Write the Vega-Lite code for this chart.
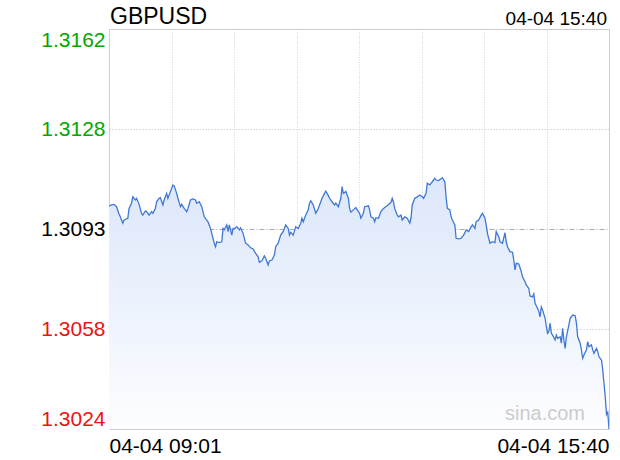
{
  "$schema": "https://vega.github.io/schema/vega-lite/v6.json",
  "width": 500,
  "height": 400,
  "autosize": {"type": "none"},
  "padding": {"left": 109, "top": 29, "right": 11, "bottom": 31},
  "background": "#ffffff",
  "config": {
    "font": "Liberation Sans",
    "view": {"stroke": "#cccccc", "strokeWidth": 1}
  },
  "data": {
    "format": {"parse": {"time": "date:'%Y-%m-%d %H:%M'"}},
    "values": [
      {"time":"2025-04-04 09:01","price":1.31009},
      {"time":"2025-04-04 09:03","price":1.31013},
      {"time":"2025-04-04 09:05","price":1.31015},
      {"time":"2025-04-04 09:07","price":1.31007},
      {"time":"2025-04-04 09:09","price":1.30982},
      {"time":"2025-04-04 09:10","price":1.30972},
      {"time":"2025-04-04 09:12","price":1.30950},
      {"time":"2025-04-04 09:13","price":1.30961},
      {"time":"2025-04-04 09:16","price":1.30967},
      {"time":"2025-04-04 09:17","price":1.31001},
      {"time":"2025-04-04 09:19","price":1.31019},
      {"time":"2025-04-04 09:20","price":1.31041},
      {"time":"2025-04-04 09:22","price":1.31030},
      {"time":"2025-04-04 09:23","price":1.31036},
      {"time":"2025-04-04 09:25","price":1.31015},
      {"time":"2025-04-04 09:27","price":1.30984},
      {"time":"2025-04-04 09:28","price":1.30978},
      {"time":"2025-04-04 09:30","price":1.30992},
      {"time":"2025-04-04 09:31","price":1.30990},
      {"time":"2025-04-04 09:33","price":1.30978},
      {"time":"2025-04-04 09:35","price":1.30990},
      {"time":"2025-04-04 09:36","price":1.30984},
      {"time":"2025-04-04 09:38","price":1.31001},
      {"time":"2025-04-04 09:39","price":1.31024},
      {"time":"2025-04-04 09:41","price":1.31036},
      {"time":"2025-04-04 09:42","price":1.31038},
      {"time":"2025-04-04 09:44","price":1.31013},
      {"time":"2025-04-04 09:45","price":1.31030},
      {"time":"2025-04-04 09:47","price":1.31053},
      {"time":"2025-04-04 09:48","price":1.31036},
      {"time":"2025-04-04 09:50","price":1.31059},
      {"time":"2025-04-04 09:52","price":1.31082},
      {"time":"2025-04-04 09:53","price":1.31079},
      {"time":"2025-04-04 09:55","price":1.31053},
      {"time":"2025-04-04 09:56","price":1.31036},
      {"time":"2025-04-04 09:58","price":1.31007},
      {"time":"2025-04-04 09:59","price":1.31015},
      {"time":"2025-04-04 10:01","price":1.31001},
      {"time":"2025-04-04 10:03","price":1.30990},
      {"time":"2025-04-04 10:04","price":1.31001},
      {"time":"2025-04-04 10:06","price":1.31030},
      {"time":"2025-04-04 10:08","price":1.31034},
      {"time":"2025-04-04 10:10","price":1.31030},
      {"time":"2025-04-04 10:11","price":1.31019},
      {"time":"2025-04-04 10:13","price":1.31024},
      {"time":"2025-04-04 10:15","price":1.31007},
      {"time":"2025-04-04 10:16","price":1.30990},
      {"time":"2025-04-04 10:17","price":1.30972},
      {"time":"2025-04-04 10:20","price":1.30955},
      {"time":"2025-04-04 10:22","price":1.30932},
      {"time":"2025-04-04 10:23","price":1.30915},
      {"time":"2025-04-04 10:25","price":1.30881},
      {"time":"2025-04-04 10:26","price":1.30869},
      {"time":"2025-04-04 10:27","price":1.30886},
      {"time":"2025-04-04 10:29","price":1.30883},
      {"time":"2025-04-04 10:31","price":1.30886},
      {"time":"2025-04-04 10:32","price":1.30932},
      {"time":"2025-04-04 10:33","price":1.30927},
      {"time":"2025-04-04 10:35","price":1.30944},
      {"time":"2025-04-04 10:36","price":1.30921},
      {"time":"2025-04-04 10:37","price":1.30944},
      {"time":"2025-04-04 10:39","price":1.30909},
      {"time":"2025-04-04 10:40","price":1.30932},
      {"time":"2025-04-04 10:41","price":1.30930},
      {"time":"2025-04-04 10:43","price":1.30938},
      {"time":"2025-04-04 10:45","price":1.30927},
      {"time":"2025-04-04 10:46","price":1.30934},
      {"time":"2025-04-04 10:48","price":1.30915},
      {"time":"2025-04-04 10:50","price":1.30881},
      {"time":"2025-04-04 10:52","price":1.30875},
      {"time":"2025-04-04 10:54","price":1.30865},
      {"time":"2025-04-04 10:56","price":1.30861},
      {"time":"2025-04-04 10:58","price":1.30846},
      {"time":"2025-04-04 11:00","price":1.30834},
      {"time":"2025-04-04 11:01","price":1.30815},
      {"time":"2025-04-04 11:03","price":1.30820},
      {"time":"2025-04-04 11:05","price":1.30837},
      {"time":"2025-04-04 11:06","price":1.30829},
      {"time":"2025-04-04 11:08","price":1.30806},
      {"time":"2025-04-04 11:09","price":1.30820},
      {"time":"2025-04-04 11:11","price":1.30823},
      {"time":"2025-04-04 11:13","price":1.30840},
      {"time":"2025-04-04 11:14","price":1.30869},
      {"time":"2025-04-04 11:16","price":1.30881},
      {"time":"2025-04-04 11:18","price":1.30909},
      {"time":"2025-04-04 11:20","price":1.30921},
      {"time":"2025-04-04 11:22","price":1.30944},
      {"time":"2025-04-04 11:24","price":1.30932},
      {"time":"2025-04-04 11:25","price":1.30909},
      {"time":"2025-04-04 11:26","price":1.30919},
      {"time":"2025-04-04 11:28","price":1.30909},
      {"time":"2025-04-04 11:30","price":1.30938},
      {"time":"2025-04-04 11:32","price":1.30932},
      {"time":"2025-04-04 11:34","price":1.30950},
      {"time":"2025-04-04 11:35","price":1.30967},
      {"time":"2025-04-04 11:36","price":1.30955},
      {"time":"2025-04-04 11:38","price":1.30978},
      {"time":"2025-04-04 11:40","price":1.30996},
      {"time":"2025-04-04 11:41","price":1.31019},
      {"time":"2025-04-04 11:42","price":1.31027},
      {"time":"2025-04-04 11:44","price":1.31013},
      {"time":"2025-04-04 11:46","price":1.30984},
      {"time":"2025-04-04 11:48","price":1.31001},
      {"time":"2025-04-04 11:50","price":1.31024},
      {"time":"2025-04-04 11:51","price":1.31036},
      {"time":"2025-04-04 11:53","price":1.31053},
      {"time":"2025-04-04 11:54","price":1.31061},
      {"time":"2025-04-04 11:56","price":1.31045},
      {"time":"2025-04-04 11:57","price":1.31036},
      {"time":"2025-04-04 11:59","price":1.31024},
      {"time":"2025-04-04 12:01","price":1.31013},
      {"time":"2025-04-04 12:02","price":1.31019},
      {"time":"2025-04-04 12:04","price":1.31007},
      {"time":"2025-04-04 12:06","price":1.31036},
      {"time":"2025-04-04 12:07","price":1.31076},
      {"time":"2025-04-04 12:08","price":1.31053},
      {"time":"2025-04-04 12:10","price":1.31059},
      {"time":"2025-04-04 12:12","price":1.31036},
      {"time":"2025-04-04 12:13","price":1.31001},
      {"time":"2025-04-04 12:14","price":1.30988},
      {"time":"2025-04-04 12:16","price":1.30996},
      {"time":"2025-04-04 12:18","price":1.31004},
      {"time":"2025-04-04 12:20","price":1.30990},
      {"time":"2025-04-04 12:21","price":1.30984},
      {"time":"2025-04-04 12:22","price":1.30967},
      {"time":"2025-04-04 12:24","price":1.30984},
      {"time":"2025-04-04 12:25","price":1.31007},
      {"time":"2025-04-04 12:28","price":1.31010},
      {"time":"2025-04-04 12:29","price":1.30996},
      {"time":"2025-04-04 12:30","price":1.30972},
      {"time":"2025-04-04 12:32","price":1.30967},
      {"time":"2025-04-04 12:33","price":1.30955},
      {"time":"2025-04-04 12:34","price":1.30969},
      {"time":"2025-04-04 12:36","price":1.30967},
      {"time":"2025-04-04 12:38","price":1.30990},
      {"time":"2025-04-04 12:39","price":1.30996},
      {"time":"2025-04-04 12:41","price":1.31004},
      {"time":"2025-04-04 12:43","price":1.31010},
      {"time":"2025-04-04 12:46","price":1.31022},
      {"time":"2025-04-04 12:47","price":1.31036},
      {"time":"2025-04-04 12:48","price":1.31024},
      {"time":"2025-04-04 12:49","price":1.31001},
      {"time":"2025-04-04 12:51","price":1.30978},
      {"time":"2025-04-04 12:52","price":1.30972},
      {"time":"2025-04-04 12:54","price":1.30978},
      {"time":"2025-04-04 12:55","price":1.30961},
      {"time":"2025-04-04 12:57","price":1.30972},
      {"time":"2025-04-04 12:59","price":1.30967},
      {"time":"2025-04-04 13:01","price":1.30950},
      {"time":"2025-04-04 13:02","price":1.30967},
      {"time":"2025-04-04 13:03","price":1.31013},
      {"time":"2025-04-04 13:05","price":1.31036},
      {"time":"2025-04-04 13:07","price":1.31041},
      {"time":"2025-04-04 13:09","price":1.31047},
      {"time":"2025-04-04 13:11","price":1.31041},
      {"time":"2025-04-04 13:12","price":1.31036},
      {"time":"2025-04-04 13:14","price":1.31053},
      {"time":"2025-04-04 13:15","price":1.31088},
      {"time":"2025-04-04 13:17","price":1.31082},
      {"time":"2025-04-04 13:19","price":1.31093},
      {"time":"2025-04-04 13:21","price":1.31105},
      {"time":"2025-04-04 13:22","price":1.31099},
      {"time":"2025-04-04 13:24","price":1.31097},
      {"time":"2025-04-04 13:26","price":1.31103},
      {"time":"2025-04-04 13:27","price":1.31107},
      {"time":"2025-04-04 13:29","price":1.31093},
      {"time":"2025-04-04 13:30","price":1.31041},
      {"time":"2025-04-04 13:31","price":1.31001},
      {"time":"2025-04-04 13:33","price":1.30996},
      {"time":"2025-04-04 13:34","price":1.30972},
      {"time":"2025-04-04 13:35","price":1.30961},
      {"time":"2025-04-04 13:37","price":1.30944},
      {"time":"2025-04-04 13:38","price":1.30898},
      {"time":"2025-04-04 13:40","price":1.30896},
      {"time":"2025-04-04 13:42","price":1.30898},
      {"time":"2025-04-04 13:44","price":1.30909},
      {"time":"2025-04-04 13:46","price":1.30927},
      {"time":"2025-04-04 13:48","price":1.30921},
      {"time":"2025-04-04 13:50","price":1.30938},
      {"time":"2025-04-04 13:51","price":1.30944},
      {"time":"2025-04-04 13:53","price":1.30932},
      {"time":"2025-04-04 13:54","price":1.30955},
      {"time":"2025-04-04 13:56","price":1.30961},
      {"time":"2025-04-04 13:58","price":1.30978},
      {"time":"2025-04-04 13:59","price":1.30984},
      {"time":"2025-04-04 14:01","price":1.30967},
      {"time":"2025-04-04 14:02","price":1.30944},
      {"time":"2025-04-04 14:03","price":1.30915},
      {"time":"2025-04-04 14:05","price":1.30881},
      {"time":"2025-04-04 14:07","price":1.30886},
      {"time":"2025-04-04 14:09","price":1.30883},
      {"time":"2025-04-04 14:10","price":1.30921},
      {"time":"2025-04-04 14:12","price":1.30903},
      {"time":"2025-04-04 14:13","price":1.30886},
      {"time":"2025-04-04 14:15","price":1.30881},
      {"time":"2025-04-04 14:17","price":1.30917},
      {"time":"2025-04-04 14:18","price":1.30886},
      {"time":"2025-04-04 14:19","price":1.30869},
      {"time":"2025-04-04 14:21","price":1.30852},
      {"time":"2025-04-04 14:23","price":1.30850},
      {"time":"2025-04-04 14:24","price":1.30823},
      {"time":"2025-04-04 14:25","price":1.30789},
      {"time":"2025-04-04 14:26","price":1.30812},
      {"time":"2025-04-04 14:28","price":1.30809},
      {"time":"2025-04-04 14:30","price":1.30783},
      {"time":"2025-04-04 14:31","price":1.30765},
      {"time":"2025-04-04 14:33","price":1.30748},
      {"time":"2025-04-04 14:34","price":1.30737},
      {"time":"2025-04-04 14:36","price":1.30725},
      {"time":"2025-04-04 14:37","price":1.30699},
      {"time":"2025-04-04 14:39","price":1.30696},
      {"time":"2025-04-04 14:40","price":1.30706},
      {"time":"2025-04-04 14:41","price":1.30674},
      {"time":"2025-04-04 14:43","price":1.30656},
      {"time":"2025-04-04 14:44","price":1.30645},
      {"time":"2025-04-04 14:45","price":1.30627},
      {"time":"2025-04-04 14:46","price":1.30661},
      {"time":"2025-04-04 14:47","price":1.30651},
      {"time":"2025-04-04 14:49","price":1.30622},
      {"time":"2025-04-04 14:50","price":1.30593},
      {"time":"2025-04-04 14:51","price":1.30570},
      {"time":"2025-04-04 14:52","price":1.30576},
      {"time":"2025-04-04 14:53","price":1.30605},
      {"time":"2025-04-04 14:54","price":1.30570},
      {"time":"2025-04-04 14:55","price":1.30564},
      {"time":"2025-04-04 14:57","price":1.30547},
      {"time":"2025-04-04 14:58","price":1.30564},
      {"time":"2025-04-04 14:59","price":1.30553},
      {"time":"2025-04-04 15:01","price":1.30558},
      {"time":"2025-04-04 15:02","price":1.30536},
      {"time":"2025-04-04 15:03","price":1.30587},
      {"time":"2025-04-04 15:04","price":1.30547},
      {"time":"2025-04-04 15:05","price":1.30518},
      {"time":"2025-04-04 15:06","price":1.30558},
      {"time":"2025-04-04 15:08","price":1.30599},
      {"time":"2025-04-04 15:09","price":1.30622},
      {"time":"2025-04-04 15:11","price":1.30633},
      {"time":"2025-04-04 15:13","price":1.30631},
      {"time":"2025-04-04 15:14","price":1.30605},
      {"time":"2025-04-04 15:15","price":1.30558},
      {"time":"2025-04-04 15:17","price":1.30536},
      {"time":"2025-04-04 15:18","price":1.30513},
      {"time":"2025-04-04 15:19","price":1.30484},
      {"time":"2025-04-04 15:20","price":1.30495},
      {"time":"2025-04-04 15:22","price":1.30513},
      {"time":"2025-04-04 15:23","price":1.30541},
      {"time":"2025-04-04 15:24","price":1.30524},
      {"time":"2025-04-04 15:26","price":1.30530},
      {"time":"2025-04-04 15:27","price":1.30513},
      {"time":"2025-04-04 15:28","price":1.30501},
      {"time":"2025-04-04 15:30","price":1.30518},
      {"time":"2025-04-04 15:31","price":1.30507},
      {"time":"2025-04-04 15:32","price":1.30489},
      {"time":"2025-04-04 15:34","price":1.30478},
      {"time":"2025-04-04 15:35","price":1.30444},
      {"time":"2025-04-04 15:36","price":1.30398},
      {"time":"2025-04-04 15:37","price":1.30351},
      {"time":"2025-04-04 15:38","price":1.30290},
      {"time":"2025-04-04 15:39","price":1.30298},
      {"time":"2025-04-04 15:40","price":1.30240}
    ]
  },
  "layer": [
    {
      "mark": {
        "type": "area",
        "clip": true,
        "color": {
          "x1": 0, "y1": 0, "x2": 0, "y2": 1,
          "gradient": "linear",
          "stops": [
            {"offset": 0, "color": "#dce7fa"},
            {"offset": 1, "color": "#fcfdff"}
          ]
        }
      },
      "encoding": {
        "x": {
          "field": "time",
          "type": "temporal",
          "scale": {
            "domain": [
              {"year": 2025, "month": 4, "date": 4, "hours": 9, "minutes": 1},
              {"year": 2025, "month": 4, "date": 4, "hours": 15, "minutes": 40}
            ],
            "nice": false
          },
          "axis": {
            "title": null,
            "values": [
              {"year": 2025, "month": 4, "date": 4, "hours": 9, "minutes": 1},
              {"year": 2025, "month": 4, "date": 4, "hours": 9, "minutes": 50, "seconds": 52, "milliseconds": 500},
              {"year": 2025, "month": 4, "date": 4, "hours": 10, "minutes": 40, "seconds": 45},
              {"year": 2025, "month": 4, "date": 4, "hours": 11, "minutes": 30, "seconds": 37, "milliseconds": 500},
              {"year": 2025, "month": 4, "date": 4, "hours": 12, "minutes": 20, "seconds": 30},
              {"year": 2025, "month": 4, "date": 4, "hours": 13, "minutes": 10, "seconds": 22, "milliseconds": 500},
              {"year": 2025, "month": 4, "date": 4, "hours": 14, "minutes": 0, "seconds": 15},
              {"year": 2025, "month": 4, "date": 4, "hours": 14, "minutes": 50, "seconds": 7, "milliseconds": 500},
              {"year": 2025, "month": 4, "date": 4, "hours": 15, "minutes": 40}
            ],
            "labelExpr": "(hours(datum.value) == 9 && minutes(datum.value) == 1) || (hours(datum.value) == 15 && minutes(datum.value) == 40) ? timeFormat(datum.value, '%m-%d %H:%M') : ''",
            "labelFlush": true,
            "labelOverlap": false,
            "labelFontSize": 21,
            "labelFont": "Liberation Sans",
            "labelColor": "#000000",
            "labelPadding": 6,
            "ticks": false,
            "tickSize": 0,
            "domain": false,
            "grid": true,
            "gridColor": "#d4d4d4",
            "gridDash": [1, 1.5]
          }
        },
        "y": {
          "field": "price",
          "type": "quantitative",
          "scale": {"domain": [1.3024, 1.3162], "zero": false, "nice": false},
          "axis": {
            "title": null,
            "values": [1.3024, 1.30585, 1.3093, 1.31275, 1.3162],
            "labelExpr": "datum.value > 1.305 && datum.value < 1.3065 ? '1.3058' : datum.value > 1.312 && datum.value < 1.3135 ? '1.3128' : format(datum.value, '.4f')",
            "labelFlush": true,
            "labelOverlap": false,
            "labelFontSize": 21,
            "labelFont": "Liberation Sans",
            "labelColor": {
              "condition": [
                {"test": "datum.value > 1.3100", "value": "#00a800"},
                {"test": "datum.value < 1.3085", "value": "#ee1111"}
              ],
              "value": "#000000"
            },
            "labelPadding": 4,
            "ticks": false,
            "tickSize": 0,
            "domain": false,
            "grid": true,
            "gridColor": {
              "condition": {"test": "datum.value > 1.3090 && datum.value < 1.3096", "value": "#aaaaaa"},
              "value": "#d4d4d4"
            },
            "gridDash": {
              "condition": {"test": "datum.value > 1.3090 && datum.value < 1.3096", "value": [5, 2, 1, 2]},
              "value": [1.5, 1.5]
            },
            "gridOpacity": {
              "condition": {"test": "datum.value < 1.3030 || datum.value > 1.3155", "value": 0},
              "value": 1
            }
          }
        },
        "y2": {"datum": 1.3024}
      }
    },
    {
      "mark": {"type": "line", "color": "#3f78d4", "strokeWidth": 1.3, "clip": true},
      "encoding": {
        "x": {"field": "time", "type": "temporal"},
        "y": {"field": "price", "type": "quantitative"}
      }
    },
    {
      "transform": [{"aggregate": [{"op": "min", "field": "time", "as": "start"}]}],
      "mark": {"type": "text", "text": "GBPUSD", "align": "left", "baseline": "alphabetic", "dx": 1, "dy": -5, "fontSize": 23, "font": "Liberation Sans", "color": "#000000"},
      "encoding": {
        "x": {"field": "start", "type": "temporal"},
        "y": {"datum": 1.3162}
      }
    },
    {
      "transform": [{"aggregate": [{"op": "max", "field": "time", "as": "end"}]}],
      "mark": {"type": "text", "align": "right", "baseline": "alphabetic", "dx": -2, "dy": -4, "fontSize": 19, "font": "Liberation Sans", "color": "#000000"},
      "encoding": {
        "x": {"field": "end", "type": "temporal"},
        "y": {"datum": 1.3162},
        "text": {"field": "end", "type": "temporal", "format": "%m-%d %H:%M"}
      }
    },
    {
      "transform": [{"aggregate": [{"op": "max", "field": "time", "as": "end"}]}],
      "mark": {"type": "text", "text": "sina.com", "align": "right", "baseline": "alphabetic", "dx": -24, "dy": -9, "fontSize": 20, "font": "Liberation Sans", "color": "#cccccc"},
      "encoding": {
        "x": {"field": "end", "type": "temporal"},
        "y": {"datum": 1.3024}
      }
    }
  ]
}
